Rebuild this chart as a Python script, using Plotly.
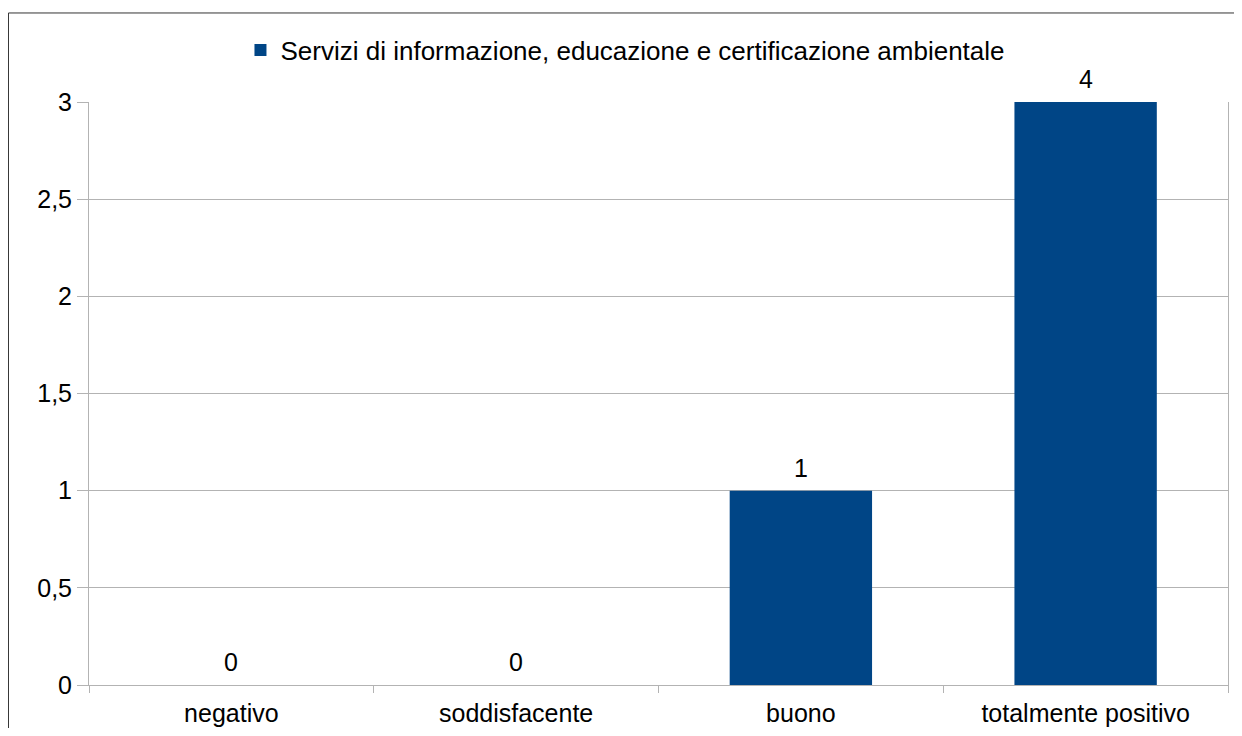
import plotly.graph_objects as go

categories = ["negativo", "soddisfacente", "buono", "totalmente positivo"]
values = [0, 0, 1, 4]
series_name = "Servizi di informazione, educazione e certificazione ambientale"
y_max = 3

fig = go.Figure()
fig.add_trace(go.Bar(
    x=categories, y=values, name=series_name,
    marker=dict(color="#004586", line=dict(width=0)),
    width=0.5, showlegend=True,
))

# data labels: value text, placed at bar top (bar clipped at axis max)
for c, v in zip(categories, values):
    fig.add_annotation(x=c, y=min(v, y_max), text=str(v), showarrow=False,
                       yanchor="bottom", yshift=7, font=dict(size=25, color="#000"))

# outer chart border (page body adds 8px offset)
fig.add_shape(type="rect", xref="paper", yref="paper",
              x0=-0.0707, x1=1.2, y0=-0.3, y1=1.1527,
              line=dict(color="#333", width=1), layer="below")

fig.update_layout(
    width=1226, height=720,
    margin=dict(l=81, r=6, t=94, b=43, autoexpand=False),
    paper_bgcolor="white", plot_bgcolor="white",
    font=dict(family="Liberation Sans", size=25, color="#000"),
    separators=",.",
    legend=dict(orientation="h", x=0.471, xanchor="center", y=1.089, yanchor="middle",
                font=dict(size=26), bgcolor="rgba(0,0,0,0)", itemwidth=30),
    xaxis=dict(showgrid=False, showline=True, linecolor="#b3b3b3", linewidth=1,
               ticks="outside", tickson="boundaries", ticklen=7, tickcolor="#b3b3b3",
               ticklabelstandoff=6),
    yaxis=dict(range=[0, y_max], dtick=0.5, showgrid=True, gridcolor="#b3b3b3",
               showline=True, linecolor="#b3b3b3", mirror=True, zeroline=False,
               ticks="outside", ticklen=11, tickcolor="#b3b3b3"),
)

fig.write_html("out.html")
